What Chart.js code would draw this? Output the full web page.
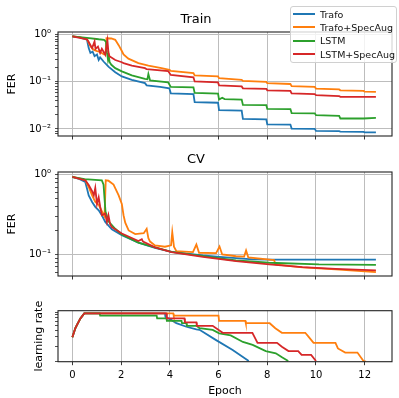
<!DOCTYPE html>
<html>
<head>
<meta charset="utf-8">
<script src="https://cdn.jsdelivr.net/npm/chart.js@4.4.1/dist/chart.umd.min.js"></script>
<style>
  html, body { margin: 0; padding: 0; background: #fff; }
  #wrap { position: relative; width: 399px; height: 398px; overflow: hidden; font-family: "DejaVu Sans", sans-serif; }
  #wrap canvas { position: absolute; left: 0; }
  #legend { position: absolute; left: 290px; top: 6px; width: 105px; height: 55px; border: 1px solid #d0d0d0; border-radius: 3px; background: rgba(255,255,255,0.8); z-index: 5; }
  .item { position: absolute; left: 0; height: 13px; font-size: 9.5px; line-height: 13px; color: #111; white-space: nowrap; }
  .item .swatch { position: absolute; left: 2px; top: 5.5px; width: 22px; height: 1.8px; }
  .item .label { position: absolute; left: 29px; top: 0; }
</style>
</head>
<body>
<div id="wrap">
  <canvas id="train" width="399" height="140" style="top:0px"></canvas>
  <canvas id="cv" width="399" height="140" style="top:140px"></canvas>
  <canvas id="lr" width="399" height="118" style="top:280px"></canvas>
  <div id="legend"></div>
</div>
<script>
const seriesNames = ["Trafo", "Trafo+SpecAug", "LSTM", "LSTM+SpecAug"];
const seriesColors = ["#1f77b4", "#ff7f0e", "#2ca02c", "#d62728"];
const epochTicks = [0, 2, 4, 6, 8, 10, 12];

// --- Train FER ---
const trafoTrainEpoch = [0, 0.3, 0.6, 0.67, 0.74, 0.83, 0.91, 1.01, 1.08, 1.14, 1.28, 1.48, 1.76, 2.03, 2.44, 2.98, 3.05, 3.6, 3.98, 4.04, 4.97, 5.02, 5.98, 6.02, 6.95, 7.0, 7.96, 8.0, 8.95, 9.0, 9.95, 10.0, 10.95, 11.0, 11.95, 12.0, 12.46];
const trafoTrainFer = [0.92, 0.88, 0.78, 0.52, 0.41, 0.44, 0.35, 0.38, 0.29, 0.33, 0.27, 0.21, 0.16, 0.13, 0.11, 0.094, 0.084, 0.078, 0.073, 0.057, 0.055, 0.037, 0.036, 0.025, 0.0245, 0.0163, 0.016, 0.0125, 0.0124, 0.0102, 0.0101, 0.0091, 0.009, 0.0088, 0.0087, 0.0085, 0.0085];
const trafoAugTrainEpoch = [0, 0.3, 0.6, 0.74, 0.87, 1.01, 1.14, 1.3, 1.36, 1.4, 1.6, 1.76, 1.9, 2.03, 2.1, 2.3, 2.71, 3.12, 3.66, 3.98, 4.04, 4.97, 5.02, 5.98, 6.02, 6.95, 7.0, 7.96, 8.0, 8.95, 9.0, 9.95, 10.0, 10.95, 11.0, 11.95, 12.0, 12.46];
const trafoAugTrainFer = [0.92, 0.89, 0.8, 0.57, 0.48, 0.45, 0.43, 0.38, 0.4, 0.84, 0.83, 0.78, 0.6, 0.45, 0.38, 0.31, 0.25, 0.22, 0.195, 0.18, 0.171, 0.153, 0.137, 0.13, 0.12, 0.11, 0.105, 0.1, 0.094, 0.09, 0.081, 0.078, 0.072, 0.069, 0.066, 0.064, 0.062, 0.061];
const lstmTrainEpoch = [0, 0.6, 1.08, 1.3, 1.38, 1.42, 1.46, 1.49, 1.53, 1.6, 1.76, 2.03, 2.44, 2.98, 3.08, 3.12, 3.19, 3.93, 4.04, 4.97, 5.02, 5.98, 6.02, 6.15, 6.25, 6.95, 7.0, 7.96, 8.0, 8.95, 9.0, 9.95, 10.0, 10.95, 11.0, 11.95, 12.46];
const lstmTrainFer = [0.92, 0.86, 0.8, 0.78, 0.7, 0.42, 0.3, 0.37, 0.26, 0.23, 0.195, 0.167, 0.137, 0.116, 0.114, 0.146, 0.107, 0.098, 0.078, 0.076, 0.058, 0.056, 0.042, 0.046, 0.043, 0.042, 0.0325, 0.032, 0.0267, 0.0265, 0.0218, 0.0215, 0.0196, 0.019, 0.0167, 0.0167, 0.0172];
const lstmAugTrainEpoch = [0, 0.6, 0.67, 0.81, 0.91, 0.95, 1.05, 1.14, 1.21, 1.35, 1.44, 1.48, 1.52, 1.76, 2.03, 2.1, 2.44, 2.98, 3.05, 3.93, 4.04, 4.97, 5.02, 5.98, 6.02, 6.95, 7.0, 7.96, 8.0, 8.95, 9.0, 9.95, 10.0, 10.95, 11.0, 12.46];
const lstmAugTrainFer = [0.92, 0.8, 0.7, 0.52, 0.72, 0.5, 0.56, 0.41, 0.5, 0.375, 0.74, 0.42, 0.35, 0.29, 0.26, 0.25, 0.22, 0.195, 0.185, 0.169, 0.14, 0.125, 0.102, 0.097, 0.084, 0.08, 0.073, 0.071, 0.066, 0.064, 0.057, 0.055, 0.052, 0.05, 0.048, 0.048];

// --- CV FER ---
const trafoCvEpoch = [0, 0.3, 0.53, 0.6, 0.67, 0.81, 0.94, 1.08, 1.21, 1.35, 1.62, 2.03, 2.71, 3.39, 4.07, 5.36, 6.04, 7.4, 8.08, 12.46];
const trafoCvFer = [0.935, 0.88, 0.81, 0.67, 0.55, 0.455, 0.395, 0.358, 0.31, 0.256, 0.207, 0.174, 0.141, 0.121, 0.108, 0.097, 0.093, 0.087, 0.086, 0.086];
const trafoAugCvEpoch = [0, 0.53, 0.67, 0.81, 0.94, 1.08, 1.21, 1.32, 1.37, 1.48, 1.69, 1.9, 2.03, 2.1, 2.17, 2.31, 2.58, 2.93, 3.05, 3.12, 3.19, 3.39, 3.8, 4.05, 4.1, 4.17, 4.27, 4.95, 5.09, 5.2, 5.9, 6.04, 6.15, 6.72, 7.05, 7.13, 7.22, 8.28, 8.34, 9.44, 10.8, 12.46];
const trafoAugCvFer = [0.935, 0.86, 0.7, 0.55, 0.455, 0.42, 0.35, 0.3, 0.85, 0.84, 0.75, 0.55, 0.43, 0.31, 0.25, 0.2, 0.18, 0.185, 0.21, 0.16, 0.145, 0.13, 0.125, 0.13, 0.19, 0.125, 0.11, 0.107, 0.133, 0.105, 0.104, 0.126, 0.1, 0.095, 0.094, 0.112, 0.092, 0.085, 0.075, 0.069, 0.065, 0.06];
const lstmCvEpoch = [0, 0.5, 1.21, 1.28, 1.32, 1.36, 1.48, 1.76, 2.03, 2.71, 3.39, 4.07, 5.36, 6.72, 8.08, 10.12, 12.46];
const lstmCvFer = [0.935, 0.88, 0.85, 0.75, 0.5, 0.345, 0.26, 0.21, 0.178, 0.141, 0.123, 0.108, 0.095, 0.084, 0.0787, 0.075, 0.074];
const lstmAugCvEpoch = [0, 0.53, 0.67, 0.81, 0.88, 0.94, 1.01, 1.08, 1.14, 1.21, 1.35, 1.42, 1.48, 1.55, 1.62, 2.03, 2.71, 2.85, 2.9, 3.39, 4.07, 5.36, 6.72, 8.08, 9.44, 10.8, 12.46];
const lstmAugCvFer = [0.935, 0.85, 0.74, 0.62, 0.55, 0.68, 0.43, 0.52, 0.4, 0.31, 0.326, 0.256, 0.31, 0.24, 0.22, 0.183, 0.147, 0.155, 0.145, 0.123, 0.107, 0.093, 0.0825, 0.075, 0.0695, 0.066, 0.063];

// --- learning rate ---
const trafoLrEpoch = [0, 0.12, 0.19, 0.33, 0.49, 3.8, 3.82, 4.07, 4.27, 4.68, 5.09, 5.22, 5.9, 6.58, 7.24];
const trafoLr = [2.95e-4, 4.4e-4, 5.1e-4, 6.8e-4, 8.5e-4, 8.5e-4, 7.3e-4, 6.3e-4, 5.5e-4, 4.7e-4, 4.2e-4, 4.1e-4, 2.6e-4, 1.68e-4, 1.03e-4];
const trafoAugLrEpoch = [0, 0.12, 0.19, 0.33, 0.49, 4.14, 4.16, 6.0, 6.02, 7.1, 7.12, 8.1, 8.33, 8.6, 9.56, 9.7, 9.9, 10.8, 10.9, 11.2, 11.7, 11.95, 12.05];
const trafoAugLr = [2.95e-4, 4.4e-4, 5.1e-4, 6.8e-4, 8.5e-4, 8.5e-4, 7.7e-4, 7.7e-4, 6.1e-4, 6.1e-4, 5.5e-4, 5.5e-4, 4.4e-4, 3.6e-4, 3.6e-4, 3.0e-4, 2.3e-4, 2.3e-4, 1.8e-4, 1.5e-4, 1.5e-4, 1.03e-4, 1.0e-4];
const lstmLrEpoch = [0, 0.12, 0.19, 0.33, 0.49, 1.12, 1.14, 3.46, 3.48, 3.86, 3.88, 4.48, 4.5, 4.68, 4.7, 5.1, 5.22, 5.76, 6.03, 6.5, 7.0, 7.4, 7.94, 8.35, 8.62, 8.86];
const lstmLr = [2.95e-4, 4.4e-4, 5.1e-4, 6.8e-4, 8.5e-4, 8.5e-4, 7.7e-4, 7.7e-4, 6.8e-4, 6.8e-4, 6.1e-4, 6.1e-4, 5.5e-4, 5.5e-4, 4.9e-4, 4.9e-4, 4.4e-4, 4.1e-4, 3.5e-4, 3.2e-4, 2.4e-4, 2.1e-4, 1.6e-4, 1.45e-4, 1.2e-4, 1.03e-4];
const lstmAugLrEpoch = [0, 0.12, 0.19, 0.33, 0.49, 3.86, 3.88, 4.6, 4.62, 5.09, 5.11, 5.76, 6.17, 7.39, 7.6, 8.4, 8.6, 8.87, 9.27, 9.41, 9.8, 10.0];
const lstmAugLr = [2.95e-4, 4.4e-4, 5.1e-4, 6.8e-4, 8.5e-4, 8.5e-4, 6.8e-4, 6.8e-4, 5.7e-4, 5.7e-4, 4.9e-4, 4.9e-4, 3.6e-4, 3.6e-4, 2.3e-4, 2.3e-4, 1.94e-4, 1.6e-4, 1.6e-4, 1.35e-4, 1.35e-4, 1.03e-4];

Chart.defaults.font.family = "'DejaVu Sans', sans-serif";
Chart.defaults.color = "#000";

const xMin = -0.59, xMax = 13.12;
const sup = { "-": "\u207b", "0": "\u2070", "1": "\u00b9", "2": "\u00b2", "3": "\u00b3" };

const points = (xs, ys) => xs.map((x, i) => ({ x, y: ys[i] }));
const isDecade = (v) => Math.abs(Math.log10(v) - Math.round(Math.log10(v))) < 1e-6;
const decadeLabel = (v) => "10" + String(Math.round(Math.log10(v))).split("").map((c) => sup[c]).join("");

function logTicks(min, max) {
    const out = [];
    for (let e = Math.floor(Math.log10(min)); e <= Math.ceil(Math.log10(max)); e++) {
        for (let m = 1; m <= 9; m++) {
            const v = m * Math.pow(10, e);
            if (v >= min * 0.9999 && v <= max * 1.0001) out.push(v);
        }
    }
    return out;
}

// matplotlib-style box round the axes
const framePlugin = {
    id: "frame",
    afterDraw(chart) {
        const { ctx, chartArea: a } = chart;
        ctx.save();
        ctx.strokeStyle = "#222";
        ctx.lineWidth = 1.1;
        ctx.strokeRect(a.left, a.top, a.right - a.left, a.bottom - a.top);
        ctx.restore();
    },
};

function makePanel(id, cfg) {
    return new Chart(document.getElementById(id), {
        type: "line",
        data: {
            datasets: cfg.series.map((s, i) => ({
                label: seriesNames[i],
                data: points(s[0], s[1]),
                borderColor: seriesColors[i],
                borderWidth: 1.8,
                pointRadius: 0,
                tension: 0,
                fill: false,
                order: 4 - i,
            })),
        },
        options: {
            responsive: false,
            animation: false,
            layout: { padding: { left: 0, right: 7, top: cfg.padTop, bottom: 0 } },
            plugins: {
                legend: { display: false },
                tooltip: { enabled: false },
                title: cfg.title
                    ? { display: true, text: cfg.title, color: "#000", font: { size: 13, weight: "normal" }, padding: { top: 12, bottom: 4.4 } }
                    : { display: false },
            },
            scales: {
                x: {
                    type: "linear",
                    min: xMin,
                    max: xMax,
                    afterBuildTicks: (s) => { s.ticks = epochTicks.map((v) => ({ value: v })); },
                    afterFit: (s) => { s.height = cfg.xHeight; s.paddingLeft = 0; s.paddingRight = 0; },
                    ticks: { display: cfg.xLabels, autoSkip: false, maxRotation: 0, padding: 4, font: { size: 10 }, color: "#000" },
                    grid: { color: "#bdbdbd", lineWidth: 1, tickColor: "#222", tickLength: 3.5, tickWidth: 0.9 },
                    border: { display: false },
                    title: cfg.xLabels
                        ? { display: true, text: "Epoch", color: "#000", font: { size: 11 }, padding: { top: 0, bottom: 0 } }
                        : { display: false },
                },
                y: {
                    type: "logarithmic",
                    min: cfg.yMin,
                    max: cfg.yMax,
                    afterBuildTicks: (s) => { s.ticks = logTicks(cfg.yMin, cfg.yMax).map((v) => ({ value: v })); },
                    afterFit: (s) => { s.width = 58; s.paddingTop = 0; s.paddingBottom = 0; },
                    ticks: {
                        autoSkip: false,
                        padding: 4,
                        font: { size: 10 },
                        color: "#000",
                        callback: (v) => (cfg.yLabels && isDecade(v) ? decadeLabel(v) : ""),
                    },
                    grid: {
                        color: (c) => (cfg.yGrid && c.tick && isDecade(c.tick.value) ? "#bdbdbd" : "rgba(0,0,0,0)"),
                        lineWidth: 1,
                        tickColor: "#222",
                        tickLength: 3,
                        tickWidth: 0.8,
                    },
                    border: { display: false },
                    title: { display: true, text: cfg.yTitle, color: "#000", font: { size: 11 }, padding: { top: cfg.yTitlePad, bottom: 0 } },
                },
            },
        },
        plugins: [framePlugin],
    });
}

makePanel("train", {
    title: "Train",
    padTop: 0,
    xHeight: 4,
    xLabels: false,
    yMin: 0.0071, yMax: 1.14,
    yLabels: true, yGrid: true,
    yTitle: "FER", yTitlePad: 6,
    series: [
        [trafoTrainEpoch, trafoTrainFer],
        [trafoAugTrainEpoch, trafoAugTrainFer],
        [lstmTrainEpoch, lstmTrainFer],
        [lstmAugTrainEpoch, lstmAugTrainFer],
    ],
});

makePanel("cv", {
    title: "CV",
    padTop: 0,
    xHeight: 4,
    xLabels: false,
    yMin: 0.0537, yMax: 1.08,
    yLabels: true, yGrid: true,
    yTitle: "FER", yTitlePad: 6,
    series: [
        [trafoCvEpoch, trafoCvFer],
        [trafoAugCvEpoch, trafoAugCvFer],
        [lstmCvEpoch, lstmCvFer],
        [lstmAugCvEpoch, lstmAugCvFer],
    ],
});

makePanel("lr", {
    title: null,
    padTop: 30.7,
    xHeight: 36.3,
    xLabels: true,
    yMin: 1e-4, yMax: 9.57e-4,
    yLabels: false, yGrid: false,
    yTitle: "learning rate", yTitlePad: 33,
    series: [
        [trafoLrEpoch, trafoLr],
        [trafoAugLrEpoch, trafoAugLr],
        [lstmLrEpoch, lstmLr],
        [lstmAugLrEpoch, lstmAugLr],
    ],
});

// legend box, drawn as html over the top panel
const legend = document.getElementById("legend");
seriesNames.forEach((name, i) => {
    const row = document.createElement("div");
    row.className = "item";
    row.style.top = (0.5 + i * 13.4) + "px";
    row.innerHTML = `<span class="swatch" style="background:${seriesColors[i]}"></span><span class="label">${name}</span>`;
    legend.appendChild(row);
});
</script>
</body>
</html>
